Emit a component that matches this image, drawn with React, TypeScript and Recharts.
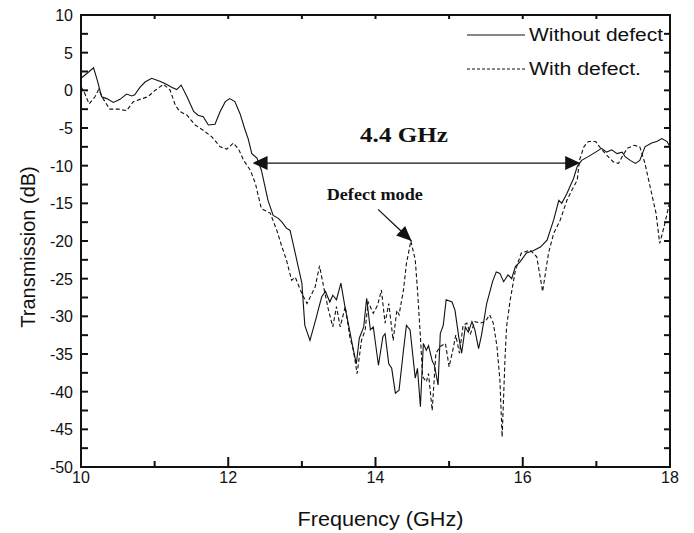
import React from 'react';
import {
  LineChart,
  Line,
  XAxis,
  YAxis,
  Legend,
  ReferenceLine,
  ReferenceDot,
  ReferenceArea,
  Label,
} from 'recharts';

const INK = '#111111';
const SANS = '"Liberation Sans", Arial, sans-serif';
const SERIF = '"Liberation Serif", "Times New Roman", serif';

// x ticks (GHz) and y ticks (dB)
const xTicks = [10, 11, 12, 13, 14, 15, 16, 17, 18];
const yTicks = [-50, -47.5, -45, -42.5, -40, -37.5, -35, -32.5, -30, -27.5, -25, -22.5, -20, -17.5, -15, -12.5, -10, -7.5, -5, -2.5, 0, 2.5, 5, 7.5, 10];

// Without defect (solid)
const solidFreq = [
  10.0, 10.1, 10.17, 10.22, 10.28, 10.35, 10.44, 10.53, 10.62, 10.69, 10.73, 10.8, 10.87, 10.96,
  11.07, 11.16, 11.23, 11.3, 11.36, 11.44, 11.53, 11.59, 11.66, 11.73, 11.82, 11.89, 11.96,
  12.02, 12.09, 12.16, 12.23, 12.27, 12.32, 12.39, 12.45, 12.52, 12.54, 12.61, 12.68, 12.73, 12.79,
  12.84, 12.88, 12.95, 13.0, 13.04, 13.11, 13.2, 13.22, 13.27, 13.32, 13.38, 13.42, 13.47, 13.53,
  13.59, 13.63, 13.7, 13.74, 13.78, 13.84, 13.88, 13.93, 13.97, 14.04, 14.1, 14.13, 14.18, 14.22,
  14.27, 14.32, 14.38, 14.42, 14.47, 14.54, 14.57, 14.61, 14.65, 14.69, 14.72, 14.77, 14.8, 14.85,
  14.88, 14.92, 14.96, 15.04, 15.08, 15.13, 15.17, 15.22, 15.26, 15.31, 15.35, 15.4, 15.44, 15.51,
  15.59, 15.64, 15.69, 15.74, 15.8, 15.85, 15.9, 15.96, 16.05, 16.14, 16.24, 16.33, 16.42, 16.49,
  16.53, 16.6, 16.64, 16.69, 16.74, 16.8, 16.89, 16.99, 17.07, 17.14, 17.21, 17.28, 17.35, 17.39,
  17.46, 17.53, 17.59, 17.66, 17.75, 17.82, 17.89, 17.96, 18.0,
];
const solidDb = [
  1.6, 2.4, 3.0, 1.4, -0.85, -1.1, -1.6, -1.2, -0.5, -0.75, -0.6, 0.4, 1.1, 1.6,
  1.2, 0.8, 0.4, 0.1, 0.7, -0.85, -2.8, -3.3, -3.5, -4.6, -4.5, -2.8, -1.5,
  -1.1, -1.5, -3.1, -5.3, -6.4, -8.4, -9.0, -10.6, -13.7, -14.6, -16.6, -17.0, -17.5, -18.3,
  -18.6, -20.3, -23.4, -25.6, -31.2, -33.2, -30.0, -29.2, -27.4, -26.7, -28.1, -27.2, -27.8, -25.6,
  -29.0, -30.9, -34.5, -36.3, -32.9, -31.4, -27.6, -31.8, -31.4, -36.5, -32.7, -32.3, -36.3, -36.9,
  -40.2, -39.8, -34.5, -31.2, -31.8, -38.2, -36.9, -42.0, -33.6, -34.5, -33.9, -35.9, -36.5, -39.1,
  -32.3, -31.2, -27.8, -28.1, -29.2, -32.7, -34.9, -31.4, -32.1, -30.7, -31.8, -34.3, -32.5, -28.3,
  -25.4, -24.1, -24.3, -25.4, -24.5, -25.0, -23.4, -22.8, -21.6, -21.3, -20.8, -19.9, -17.2, -14.6,
  -15.0, -13.7, -12.8, -11.7, -10.1, -9.3, -8.8, -8.2, -7.7, -8.2, -7.9, -8.4, -8.2, -8.8,
  -9.3, -9.7, -9.3, -7.5, -7.0, -6.8, -6.4, -6.8, -7.5,
];

// With defect (dashed)
const dashedFreq = [
  10.0, 10.05, 10.11, 10.19, 10.24, 10.3, 10.39, 10.51, 10.62, 10.71, 10.8, 10.91, 11.0, 11.12,
  11.21, 11.28, 11.34, 11.44, 11.55, 11.66, 11.78, 11.89, 11.98, 12.07, 12.14, 12.21, 12.3, 12.37,
  12.41, 12.45, 12.57, 12.66, 12.73, 12.79, 12.86, 12.91, 13.0, 13.07, 13.18, 13.24, 13.3, 13.36,
  13.42, 13.47, 13.52, 13.59, 13.65, 13.7, 13.75, 13.81, 13.86, 13.9, 13.97, 14.03, 14.08, 14.13,
  14.18, 14.24, 14.29, 14.32, 14.38, 14.42, 14.48, 14.54, 14.57, 14.61, 14.64, 14.69, 14.72, 14.77,
  14.82, 14.88, 14.95, 15.0, 15.05, 15.09, 15.14, 15.19, 15.24, 15.29, 15.35, 15.42, 15.49, 15.55,
  15.6, 15.65, 15.69, 15.72, 15.76, 15.78, 15.83, 15.9, 15.98, 16.1, 16.19, 16.27, 16.35, 16.42,
  16.51, 16.6, 16.67, 16.74, 16.77, 16.83, 16.89, 16.99, 17.06, 17.14, 17.23, 17.3, 17.35, 17.42,
  17.51, 17.59, 17.66, 17.73, 17.81, 17.86, 17.92, 17.98, 18.0,
];
const dashedDb = [
  0.5, -0.4, -1.8, -0.85, 0.1, -1.1, -2.5, -2.5, -2.7, -1.5, -1.2, -0.85, -0.05, 0.8,
  0.05, -1.95, -2.8, -3.3, -4.6, -5.3, -6.2, -7.5, -7.8, -7.0, -7.8, -9.3, -10.6, -12.4,
  -14.1, -15.7, -16.3, -18.6, -20.8, -22.5, -25.2, -24.8, -27.0, -28.3, -26.1, -23.3, -26.3, -29.1,
  -31.4, -28.7, -31.4, -28.7, -32.7, -34.5, -37.6, -33.2, -31.8, -28.1, -29.6, -28.5, -26.5, -30.9,
  -28.3, -33.2, -29.2, -29.8, -26.5, -23.0, -20.0, -22.5, -26.5, -32.7, -38.0, -38.7, -37.6, -42.5,
  -34.9, -34.0, -33.6, -36.7, -34.5, -32.5, -34.9, -31.2, -30.9, -32.3, -30.7, -30.9, -30.7, -29.8,
  -30.9, -34.0, -38.5, -46.0, -35.4, -31.4, -27.8, -23.9, -21.6, -21.2, -22.1, -26.7, -21.6, -19.0,
  -17.2, -14.6, -13.2, -11.9, -9.3, -7.5, -6.8, -6.8, -7.7, -8.6, -9.5, -9.7, -8.8, -7.7,
  -7.3, -7.5, -9.7, -12.8, -16.3, -20.3, -18.1, -15.5, -14.6,
];

// annotations (data coordinates)
const bandStart = 12.33;
const bandEnd = 16.78;
const bandLevel = -9.65;
const defectArrowFrom = { x: 14.035, y: -15.8 };
const defectArrowTo = { x: 14.49, y: -20.0 };

const solidData = solidFreq.map((f, i) => ({ f, db: solidDb[i] }));
const dashedData = dashedFreq.map((f, i) => ({ f, db: dashedDb[i] }));

function arrowHead(x1: number, y1: number, x2: number, y2: number, len: number, half: number) {
  const d = Math.hypot(x2 - x1, y2 - y1) || 1;
  const ux = (x2 - x1) / d;
  const uy = (y2 - y1) / d;
  const bx = x2 - ux * len;
  const by = y2 - uy * len;
  return `${x2},${y2} ${bx - uy * half},${by + ux * half} ${bx + uy * half},${by - ux * half}`;
}

const DoubleArrow = (p: any) => {
  const { x1, y1, x2, y2 } = p;
  return (
    <g>
      <line x1={x1 + 10} y1={y1} x2={x2 - 10} y2={y2} stroke={INK} strokeWidth={1.3} />
      <polygon points={arrowHead(x2, y2, x1, y1, 15, 7)} fill={INK} />
      <polygon points={arrowHead(x1, y1, x2, y2, 15, 7)} fill={INK} />
    </g>
  );
};

const SingleArrow = (p: any) => {
  const { x1, y1, x2, y2 } = p;
  return (
    <g>
      <line x1={x1} y1={y1} x2={x2} y2={y2} stroke={INK} strokeWidth={1.3} />
      <polygon points={arrowHead(x1, y1, x2, y2, 15, 6.5)} fill={INK} />
    </g>
  );
};

// inward tick marks, drawn at the ends of a full-span reference line
const YTickPair = (p: any) => {
  const { x1, x2, y1 } = p;
  const l = Math.min(x1, x2);
  const r = Math.max(x1, x2);
  return (
    <g>
      <line x1={l} x2={l + 7} y1={y1} y2={y1} stroke={INK} strokeWidth={2} />
      <line x1={r} x2={r - 6} y1={y1} y2={y1} stroke={INK} strokeWidth={2} />
    </g>
  );
};

const XTickPair = (p: any) => {
  const { x1, y1, y2, major } = p;
  const top = Math.min(y1, y2);
  const bottom = Math.max(y1, y2);
  return (
    <g>
      <line x1={x1} x2={x1} y1={bottom} y2={bottom - (major ? 10 : 6)} stroke={INK} strokeWidth={2} />
      <line x1={x1} x2={x1} y1={top} y2={top + 4} stroke={INK} strokeWidth={2} />
    </g>
  );
};

const BottomTick = (props: any) => {
  const { x, y, payload } = props;
  const v = payload.value;
  if (v % 2 !== 0) return <g />;
  return (
    <text x={x} y={y + 16} textAnchor="middle" fontSize={16} fill={INK} fontFamily={SANS}>
      {v}
    </text>
  );
};

const LeftTick = (props: any) => {
  const { x, y, payload } = props;
  const v = payload.value;
  if (v % 5 !== 0) return <g />;
  return (
    <text x={x - 8} y={y + 6} textAnchor="end" fontSize={16} fill={INK} fontFamily={SANS}>
      {v}
    </text>
  );
};

const TextMark = (p: any) => {
  const { cx, cy, text, size, width } = p;
  return (
    <text
      x={cx}
      y={cy}
      fontSize={size}
      fontWeight="bold"
      fontFamily={SERIF}
      fill={INK}
      textLength={width}
      lengthAdjust="spacingAndGlyphs"
    >
      {text}
    </text>
  );
};

const LegendBox = () => (
  <svg width={212} height={60} style={{ display: 'block' }}>
    <line x1={5} x2={63} y1={13} y2={13} stroke={INK} strokeWidth={1.1} />
    <text x={67} y={19} fontSize={18} fontFamily={SANS} fill={INK} textLength={134} lengthAdjust="spacingAndGlyphs">
      Without defect
    </text>
    <line x1={5} x2={63} y1={47} y2={47} stroke={INK} strokeWidth={1.1} strokeDasharray="3 2" />
    <text x={67} y={53} fontSize={18} fontFamily={SANS} fill={INK} textLength={112} lengthAdjust="spacingAndGlyphs">
      With defect.
    </text>
  </svg>
);

export default function App() {
  return (
    <div style={{ position: 'absolute', left: 0, top: 0, background: '#fff' }}>
      <LineChart width={694} height={533} margin={{ top: 15, right: 24, bottom: 0, left: 0 }}>
        <XAxis
          type="number"
          dataKey="f"
          domain={[10, 18]}
          ticks={xTicks}
          allowDataOverflow
          height={66}
          tickSize={0}
          tickMargin={0}
          tickLine={false}
          axisLine={false}
          tick={<BottomTick />}
        >
          <Label
            content={(p: any) => {
              const vb = p.viewBox;
              return (
                <text
                  x={vb.x + vb.width / 2 + 5 - 83}
                  y={526}
                  fontSize={20}
                  fontFamily={SANS}
                  fill={INK}
                  textLength={166}
                  lengthAdjust="spacingAndGlyphs"
                >
                  Frequency (GHz)
                </text>
              );
            }}
          />
        </XAxis>
        <YAxis
          type="number"
          domain={[-50, 10]}
          ticks={yTicks}
          allowDataOverflow
          width={81}
          tickSize={0}
          tickMargin={0}
          tickLine={false}
          axisLine={false}
          tick={<LeftTick />}
        >
          <Label
            content={() => (
              <text
                transform="translate(35,247) rotate(-90)"
                textAnchor="middle"
                fontSize={20}
                fontFamily={SANS}
                fill={INK}
              >
                Transmission (dB)
              </text>
            )}
          />
        </YAxis>

        {yTicks.map((v) => (
          <ReferenceLine key={`y${v}`} y={v} shape={<YTickPair />} />
        ))}
        {xTicks.map((v) => (
          <ReferenceLine key={`x${v}`} x={v} shape={<XTickPair major={v % 2 === 0} />} />
        ))}
        <ReferenceArea x1={10} x2={18} y1={-50} y2={10} fill="none" stroke={INK} strokeWidth={2} />

        <Line
          data={dashedData}
          dataKey="db"
          name="With defect."
          stroke={INK}
          strokeWidth={1.1}
          strokeDasharray="4 2.5"
          dot={false}
          activeDot={false}
          isAnimationActive={false}
        />
        <Line
          data={solidData}
          dataKey="db"
          name="Without defect"
          stroke={INK}
          strokeWidth={1.1}
          dot={false}
          activeDot={false}
          isAnimationActive={false}
        />

        <ReferenceLine
          segment={[{ x: bandStart, y: bandLevel }, { x: bandEnd, y: bandLevel }]}
          shape={<DoubleArrow />}
        />
        <ReferenceLine segment={[defectArrowFrom, defectArrowTo]} shape={<SingleArrow />} />
        <ReferenceDot x={13.79} y={-6.83} r={1} shape={<TextMark text="4.4 GHz" size={20} width={88} />} />
        <ReferenceDot x={13.338} y={-14.57} r={1} shape={<TextMark text="Defect mode" size={17} width={96} />} />

        <Legend
          layout="horizontal"
          align="center"
          verticalAlign="middle"
          wrapperStyle={{ position: 'absolute', top: 22, left: 462, width: 212, height: 60 }}
          content={() => <LegendBox />}
        />
      </LineChart>
    </div>
  );
}
